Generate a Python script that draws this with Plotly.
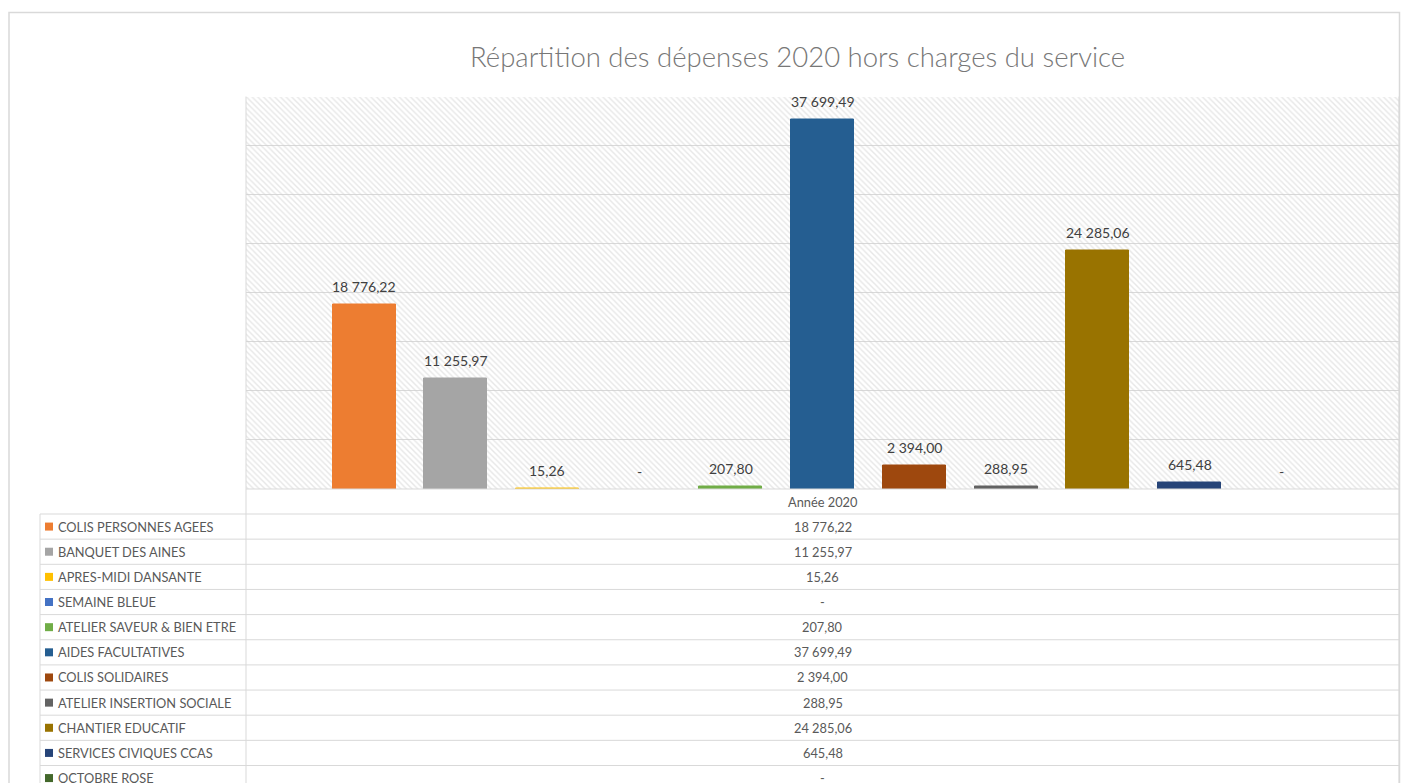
import plotly.graph_objects as go

# ---------------- data ----------------
categories = [
    "COLIS PERSONNES AGEES",
    "BANQUET DES AINES",
    "APRES-MIDI DANSANTE",
    "SEMAINE BLEUE",
    "ATELIER SAVEUR & BIEN ETRE",
    "AIDES FACULTATIVES",
    "COLIS SOLIDAIRES",
    "ATELIER INSERTION SOCIALE",
    "CHANTIER EDUCATIF",
    "SERVICES CIVIQUES CCAS",
    "OCTOBRE ROSE",
]
values = [18776.22, 11255.97, 15.26, 0, 207.80, 37699.49, 2394.00, 288.95, 24285.06, 645.48, 0]
colors = ["#ED7D31", "#A5A5A5", "#FFC000", "#4472C4", "#70AD47", "#255E91",
          "#9E480E", "#636363", "#997300", "#264478", "#43682B"]
series_name = "Année 2020"
title = "Répartition des dépenses 2020 hors charges du service"
y_max = 40000
y_step = 5000

# ---------------- helpers ----------------
W, H = 1410, 783
FONT = "Lato"


def px(x):
    return x / W


def py(y):
    return 1 - y / H


def fr(v):
    if v == 0:
        return "-"
    s = f"{v:,.2f}"
    return s.replace(",", "\u202f").replace(".", ",").replace("\u202f", " ")


# plot area geometry (pixels)
PL, PR, PT, PB = 246, 1399, 96.5, 489
C0, PITCH, BARW = 364, 91.74, 63
x_lo = (PL - C0) / PITCH
x_hi = (PR - C0) / PITCH
xs = list(range(len(categories)))

fig = go.Figure()

# hatched plot-area background
fig.add_trace(go.Bar(
    x=[(x_lo + x_hi) / 2], y=[y_max], width=[x_hi - x_lo],
    marker=dict(color="rgba(0,0,0,0)", line=dict(width=0),
                pattern=dict(shape="\\", fgcolor="#cfcfcf", bgcolor="rgba(0,0,0,0)",
                             size=4, solidity=0.35)),
    hoverinfo="skip", showlegend=False,
))

# data bars (thin outline in the bar colour keeps tiny values visible, as in Excel)
fig.add_trace(go.Bar(
    x=xs, y=values, width=BARW / PITCH,
    marker=dict(color=colors,
                line=dict(width=[1 if v > 0 else 0 for v in values], color=colors)),
    hovertext=categories, showlegend=False,
))

# data labels
for i, v in enumerate(values):
    fig.add_annotation(x=xs[i], y=v, xref="x", yref="y", text=fr(v),
                       showarrow=False, yanchor="middle", yshift=18,
                       font=dict(family=FONT, size=14, color="#404040"))

shapes = []
LINE = "#d9d9d9"


def hline(x0, x1, y, w=1):
    shapes.append(dict(type="line", xref="paper", yref="paper",
                       x0=px(x0), x1=px(x1), y0=py(y), y1=py(y),
                       line=dict(color=LINE, width=w), layer="above"))


def vline(x, y0, y1, w=1):
    shapes.append(dict(type="line", xref="paper", yref="paper",
                       x0=px(x), x1=px(x), y0=py(y0), y1=py(y1),
                       line=dict(color=LINE, width=w), layer="above"))


# chart frame
shapes.append(dict(type="rect", xref="paper", yref="paper",
                   x0=px(9), x1=px(1399.5), y0=py(12.5), y1=py(800),
                   line=dict(color="#d9d9d9", width=1.5), fillcolor="rgba(0,0,0,0)"))

# data table
ROW0, ROWH = 514, 25.15
hline(PL, PR, PB)
for k in range(len(categories)):
    hline(40, PR, ROW0 + ROWH * k)
vline(40, ROW0, 800)
vline(PL, PT, 800)
vline(PR, PT, 800)

TFONT = dict(family=FONT, size=12.8, color="#595959")
annotations = []
annotations.append(dict(x=px((PL + PR) / 2), y=py((PB + ROW0) / 2), xref="paper", yref="paper",
                        text=series_name, showarrow=False, xanchor="center", yanchor="middle",
                        font=TFONT))
for k, (c, v, col) in enumerate(zip(categories, values, colors)):
    yc = ROW0 + ROWH * k + ROWH / 2
    shapes.append(dict(type="rect", xref="paper", yref="paper",
                       x0=px(45), x1=px(53), y0=py(yc - 4), y1=py(yc + 4),
                       line=dict(width=0), fillcolor=col))
    annotations.append(dict(x=px(56), y=py(yc), xref="paper", yref="paper",
                            text=c, showarrow=False, xanchor="left", yanchor="middle",
                            font=TFONT))
    annotations.append(dict(x=px((PL + PR) / 2), y=py(yc), xref="paper", yref="paper",
                            text=fr(v), showarrow=False, xanchor="center", yanchor="middle",
                            font=TFONT))

# title
annotations.append(dict(x=px(797), y=py(56), xref="paper", yref="paper",
                        text=title, showarrow=False, xanchor="center", yanchor="middle",
                        font=dict(family=FONT, size=27.5, color="#777777", weight=300)))

for a in annotations:
    fig.add_annotation(**a)

fig.update_layout(
    width=W, height=H,
    margin=dict(l=0, r=0, t=0, b=0),
    paper_bgcolor="white", plot_bgcolor="white",
    barmode="overlay", bargap=0,
    shapes=shapes,
    xaxis=dict(domain=[px(PL), px(PR)], range=[x_lo, x_hi], showticklabels=False,
               showgrid=False, zeroline=False, showline=False, ticks=""),
    yaxis=dict(domain=[py(PB), py(PT)], range=[0, y_max], dtick=y_step, tick0=0,
               showticklabels=False, showgrid=True, gridcolor=LINE, gridwidth=1,
               zeroline=False, showline=False, ticks=""),
    showlegend=False,
)

fig.write_html("out.html", config={"displayModeBar": False},
               post_script="document.body.style.margin='0';document.body.style.overflow='hidden';")
